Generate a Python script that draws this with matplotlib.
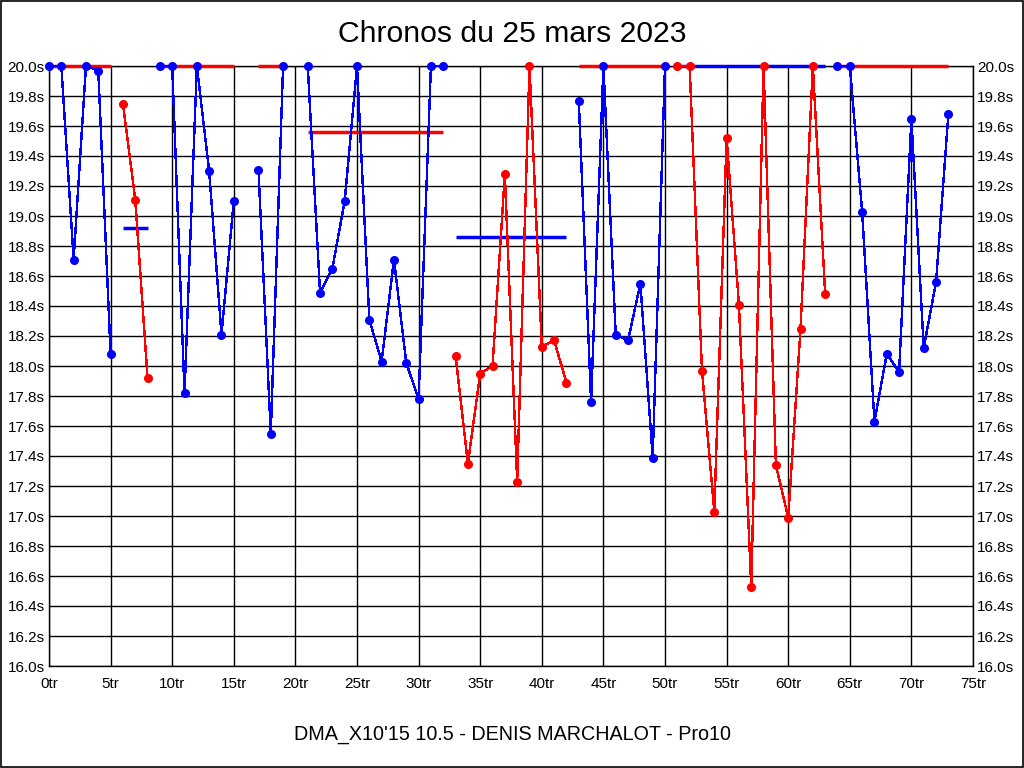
import matplotlib
matplotlib.use("Agg")
import matplotlib.pyplot as plt
from matplotlib.ticker import MultipleLocator, FuncFormatter
import numpy as np

plt.rcParams['font.family'] = ['Liberation Sans', 'DejaVu Sans']

# data : one entry per run of laps (first lap, lap times, colour, reference line)
seg_start = [0, 6, 9, 17, 21, 33, 43, 51, 64]
seg_times = [
    [20.0, 20.0, 18.71, 20.0, 19.97, 18.08],
    [19.75, 19.11, 17.92],
    [20.0, 20.0, 17.82, 20.0, 19.30, 18.21, 19.10],
    [19.31, 17.55, 20.0],
    [20.0, 18.49, 18.65, 19.10, 20.0, 18.31, 18.03, 18.71, 18.02, 17.78, 20.0, 20.0],
    [18.07, 17.35, 17.95, 18.00, 19.28, 17.23, 20.0, 18.13, 18.17, 17.89],
    [19.77, 17.76, 20.0, 18.21, 18.17, 18.55, 17.39, 20.0],
    [20.0, 20.0, 17.97, 17.03, 19.52, 18.41, 16.53, 20.0, 17.34, 16.99, 18.25, 20.0, 18.48],
    [20.0, 20.0, 19.03, 17.63, 18.08, 17.96, 19.65, 18.12, 18.56, 19.68],
]
seg_colors = ["blue", "red", "blue", "blue", "blue", "red", "blue", "red", "blue"]
ref_colors = ["red", "blue", "red", "red", "red", "blue", "red", "blue", "red"]
ref_level = [20.0, 18.92, 20.0, 20.0, 19.56, 18.86, 20.0, 20.0, 20.0]

title = "Chronos du 25 mars 2023"
subtitle = "DMA_X10'15 10.5 - DENIS MARCHALOT - Pro10"

fig = plt.figure(figsize=(10.24, 7.68), dpi=100)
ax = fig.add_axes([49/1024, 1-666/768, 924/1024, 600/768])

for start, times, col, rcol, lev in zip(seg_start, seg_times, seg_colors, ref_colors, ref_level):
    laps = np.arange(start, start + len(times))
    ax.plot([laps[0], laps[-1]], [lev, lev], color=rcol, lw=2.5,
            solid_capstyle="butt", zorder=3, clip_on=False)
    ax.plot(laps, times, color=col, lw=1.0, marker="o", markersize=5.5,
            zorder=4, clip_on=False, antialiased=False)

ax.set_xlim(0, 75)
ax.set_ylim(16.0, 20.0)
ax.xaxis.set_major_locator(MultipleLocator(5))
ax.yaxis.set_major_locator(MultipleLocator(0.2))
ax.xaxis.set_major_formatter(FuncFormatter(lambda v, p: "%dtr" % round(v)))
ax.yaxis.set_major_formatter(FuncFormatter(lambda v, p: "%.1fs" % v))
ax.grid(True, color="black", lw=1.0)
ax.set_axisbelow(True)
ax.tick_params(axis="both", length=0, labelsize=11)
ax.tick_params(axis="x", pad=8)
ax.tick_params(axis="y", pad=3, right=True, labelright=True)
for s in ax.spines.values():
    s.set_color("black")
    s.set_linewidth(1.0)

fig.text(0.5, 1-34/768, title, ha="center", va="center", fontsize=21.7)
fig.text(0.5, 1-735/768, subtitle, ha="center", va="center", fontsize=14.2)

# frame around the picture
fig.patches.append(plt.Rectangle((0.0005, 0.0007), 0.999, 0.9986, transform=fig.transFigure,
                                 fill=False, edgecolor="black", lw=1.2))

fig.savefig("out.png", dpi=100)
